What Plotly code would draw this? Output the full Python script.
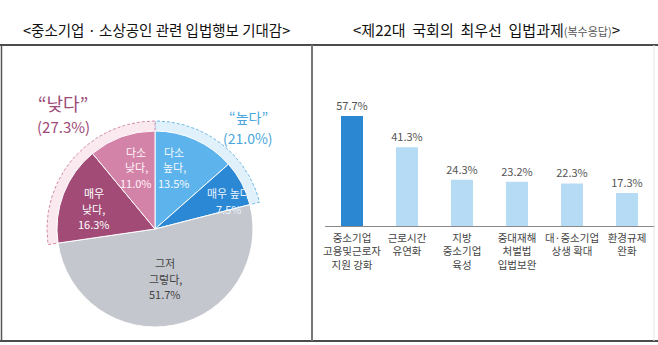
import math
import plotly.graph_objects as go

W, H = 658, 345

# ---------------- data ----------------
pie_labels = ["다소 높다", "매우 높다", "그저 그렇다", "매우 낮다", "다소 낮다"]
pie_text_lines = [["다소", "높다,"], ["매우 높다"], ["그저", "그렇다,"], ["매우", "낮다,"], ["다소", "낮다,"]]
pie_values = [13.5, 7.5, 51.7, 16.3, 11.0]
pie_colors = ["#5db3eb", "#2b88d4", "#c4c7cd", "#a24b77", "#d483a8"]
pie_text_colors = ["#f4f9ff", "#e8f3ff", "#444444", "#ffffff", "#fff4f8"]

group_labels = ["“높다”", "“낮다”"]
group_values = [21.0, 27.3]

bar_categories = ["중소기업<br>고용및근로자<br>지원 강화", "근로시간<br>유연화", "지방<br>중소기업<br>육성",
                  "중대재해<br>처벌법<br>입법보완", "대·중소기업<br>상생 확대", "환경규제<br>완화"]
bar_values = [57.7, 41.3, 24.3, 23.2, 22.3, 17.3]

# ---------------- layout helpers (pixel -> paper) ----------------
def px(x):
    return x / W

def py(y):
    return (H - y) / H

FONT = "Noto Sans CJK KR"
cx, cy, R = 155, 229, 98      # pie centre / radius in px
R_OUT = 108                    # outer ring radius

fig = go.Figure()

def note(x, y, text, size, color, **kw):
    fig.add_annotation(x=px(x), y=py(y), xref="paper", yref="paper", showarrow=False,
                       xanchor="center", yanchor="middle", text=text, align="center",
                       font=dict(family=FONT, size=size, color=color), **kw)

def lines(x, y, texts, sizes, color, gap):
    n = len(texts)
    y0 = y - gap * (n - 1) / 2
    for i, (t, s) in enumerate(zip(texts, sizes)):
        note(x, y0 + i * gap, t, s, color)

# ---- outer group rings (drawn on a full-figure pixel axis, beneath the pie) ----
def sector(a0, a1, r):
    xs, ys = [cx], [cy]
    n = 60
    for i in range(n + 1):
        a = math.radians(a0 + (a1 - a0) * i / n)
        xs.append(cx + r * math.sin(a))
        ys.append(cy - r * math.cos(a))
    xs.append(cx); ys.append(cy)
    return xs, ys

hi_span = group_values[0] / 100 * 360
lo_span = group_values[1] / 100 * 360
rings = [
    (0, hi_span, "#e1f1fb", "#6fb9e4"),
    (360 - lo_span, 360, "#faeaf0", "#d48aaa"),
]
for a0, a1, fc, lc in rings:
    xs, ys = sector(a0, a1, R_OUT)
    fig.add_trace(go.Scatter(x=xs, y=ys, xaxis="x2", yaxis="y2", mode="lines",
                             fill="toself", fillcolor=fc,
                             line=dict(color=lc, width=1, dash="3px,2px"),
                             hoverinfo="skip", showlegend=False))

# ---- main pie ----
fig.add_trace(go.Pie(
    labels=pie_labels, values=pie_values, sort=False, direction="clockwise", rotation=0,
    marker=dict(colors=pie_colors, line=dict(color="white", width=1)),
    textinfo="none", hoverinfo="label+value", showlegend=False,
    domain=dict(x=[px(cx - R), px(cx + R)], y=[py(cy + R), py(cy - R)]),
))

# pie slice labels near slice mid-angles
r_frac = [0.66, 0.80, 0.52, 0.66, 0.66]
a_shift = [-7, 7, 0, -3, 3]
cum = 0
for lab, v, col, rf, da in zip(pie_text_lines, pie_values, pie_text_colors, r_frac, a_shift):
    mid = math.radians((cum + v / 2) / 100 * 360 + da)
    cum += v
    lx = cx + rf * R * math.sin(mid)
    ly = cy - rf * R * math.cos(mid)
    texts = lab + [f"{v:.1f}%"]
    lines(lx, ly, texts, [11] * len(texts), col, 15.5)

# group labels
lines(248, 127, [group_labels[0], f"({group_values[0]:.1f}%)"], [14, 14], "#4aa6dc", 21)
lines(63, 115, [group_labels[1], f"({group_values[1]:.1f}%)"], [18, 15], "#9e4a78", 24)

# ---- bar chart ----
bar_colors = ["#2b87d1"] + ["#b6dcf5"] * (len(bar_values) - 1)
fig.add_trace(go.Bar(
    x=list(range(len(bar_values))), y=bar_values, marker=dict(color=bar_colors, line=dict(width=0)),
    text=[f"{v:.1f}%" for v in bar_values], textposition="outside", cliponaxis=False,
    constraintext="none",
    textfont=dict(family=FONT, size=11, color="#555555"), showlegend=False, hoverinfo="y",
))

fig.update_layout(
    width=W, height=H, margin=dict(l=0, r=0, t=0, b=0),
    paper_bgcolor="white", plot_bgcolor="rgba(0,0,0,0)",
    bargap=0.6,
    xaxis=dict(domain=[px(324.5), px(654.5)], range=[-0.5, len(bar_values) - 0.5],
               tickmode="array", tickvals=list(range(len(bar_values))), ticktext=bar_categories,
               showline=True, linecolor="#8a8a8a", linewidth=1, showgrid=False, zeroline=False,
               ticks="", ticklabelstandoff=2,
               tickfont=dict(family=FONT, size=10.5, color="#444444"), fixedrange=True),
    yaxis=dict(domain=[py(226), py(73.5)], range=[0, 80], visible=False, fixedrange=True),
    xaxis2=dict(domain=[0, 1], range=[0, W], visible=False, anchor="y2", fixedrange=True),
    yaxis2=dict(domain=[0, 1], range=[H, 0], visible=False, anchor="x2", fixedrange=True),
    font=dict(family=FONT),
)

# titles
note(156, 29, "&lt;중소기업 · 소상공인 관련 입법행보 기대감&gt;", 14.5, "#111111")
note(486, 29, "&lt;제22대  국회의  최우선  입법과제<span style='font-size:11px;color:#555'>(복수응답)</span>&gt;",
     15, "#111111")

# frame lines
shapes = [
    dict(type="line", xref="paper", yref="paper", x0=0, x1=1, y0=py(45), y1=py(45),
         line=dict(color="#111111", width=1.5)),
    dict(type="line", xref="paper", yref="paper", x0=0, x1=1, y0=py(341), y1=py(341),
         line=dict(color="#111111", width=1.5)),
    dict(type="line", xref="paper", yref="paper", x0=px(1.5), x1=px(1.5), y0=py(45), y1=py(341),
         line=dict(color="#555555", width=1.5)),
    dict(type="line", xref="paper", yref="paper", x0=px(312), x1=px(312), y0=py(45), y1=py(341),
         line=dict(color="#777777", width=2)),
    dict(type="line", xref="paper", yref="paper", x0=px(654), x1=px(654), y0=py(45), y1=py(341),
         line=dict(color="#e4e4e4", width=1)),
]
fig.update_layout(shapes=shapes)

fig.write_html("out.html")
